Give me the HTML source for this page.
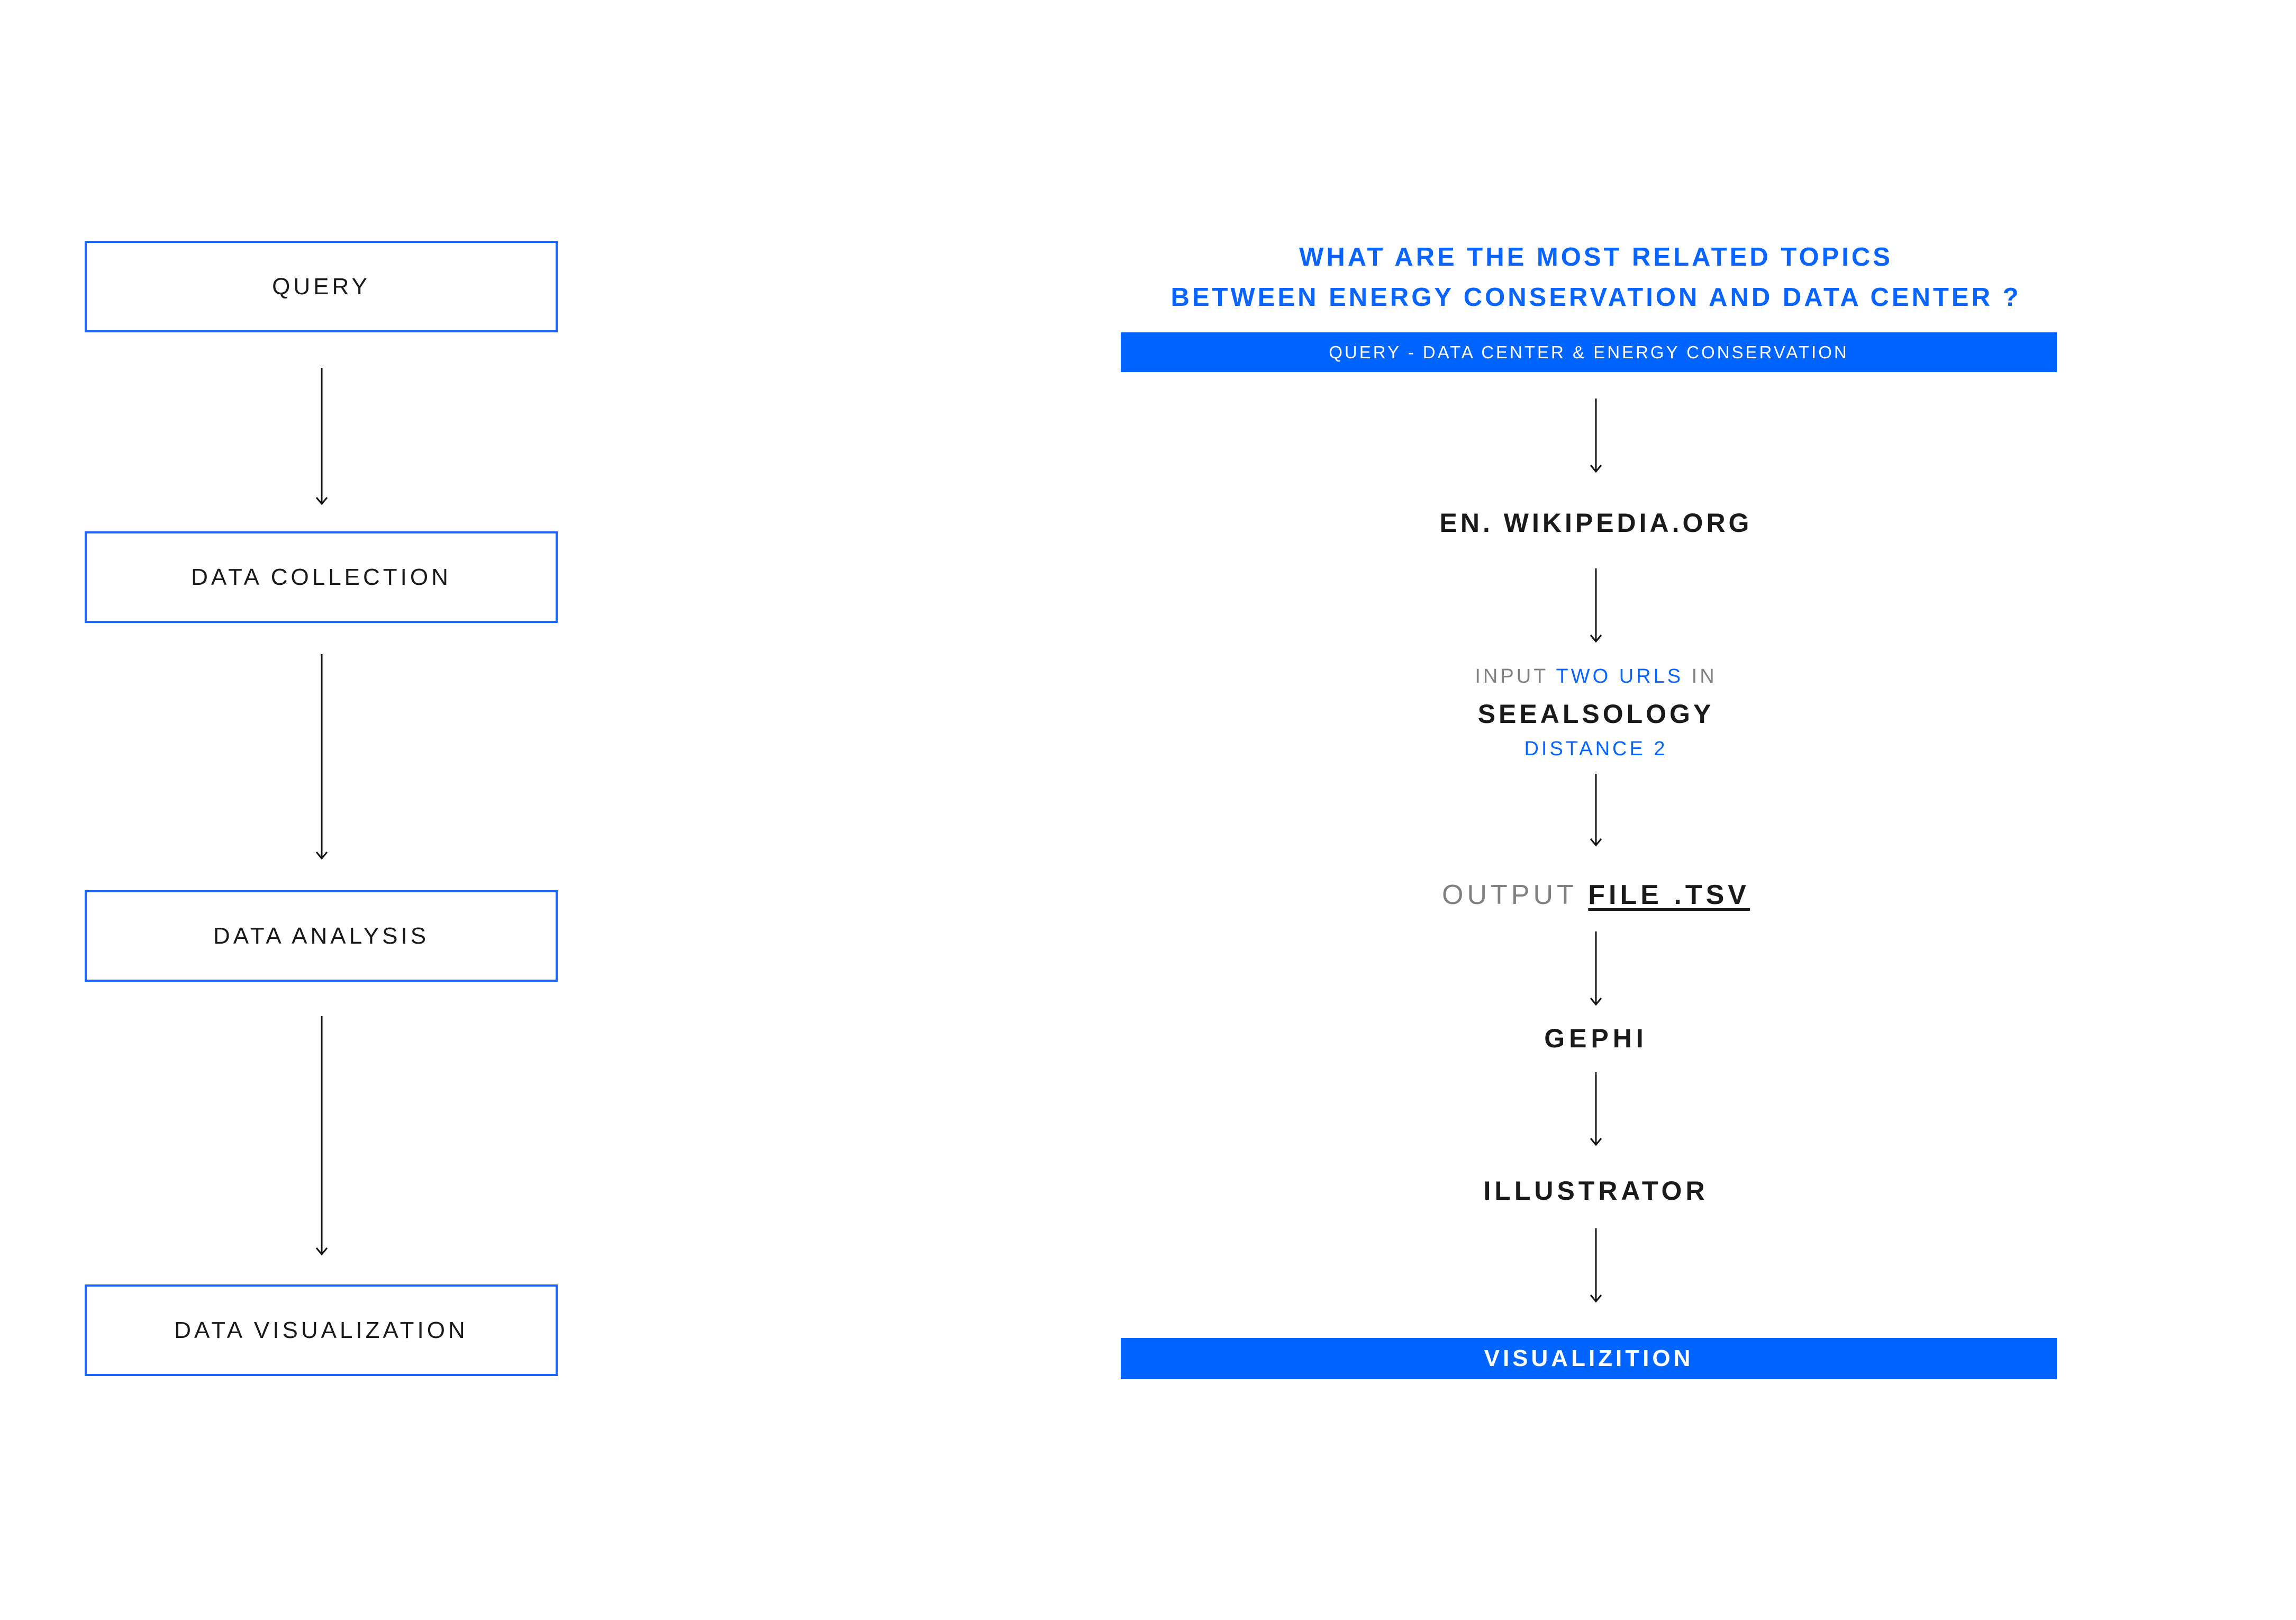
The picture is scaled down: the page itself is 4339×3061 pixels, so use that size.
<!DOCTYPE html>
<html><head><meta charset="utf-8"><style>
html,body{margin:0;padding:0;background:#fff}
body{width:4339px;height:3061px;position:relative;overflow:hidden;font-family:"Liberation Sans",sans-serif}
.box{position:absolute;left:160px;width:894px;height:173px;border:4px solid #1a66ff;box-sizing:border-box;display:flex;align-items:center;justify-content:center;font-size:44px;letter-spacing:6px;color:#1a1a1a}
.t{position:absolute;left:0;width:100%;text-align:center;white-space:nowrap;line-height:1}
.r{left:2100px;width:1832px}
.bar{position:absolute;left:2118px;width:1769px;background:#0064ff;color:#fff;display:flex;align-items:center;justify-content:center}
.blue{color:#0a64ff}.grey{color:#808080}
.b{font-weight:bold}
</style></head><body>
<div class="box" style="top:455px">QUERY</div>
<div class="box" style="top:1004px">DATA COLLECTION</div>
<div class="box" style="top:1682px">DATA ANALYSIS</div>
<div class="box" style="top:2427px">DATA VISUALIZATION</div>

<svg width="4339" height="3061" style="position:absolute;left:0;top:0" fill="none" stroke="#111" stroke-width="3">
<g>
<path d="M608 695V952M598 940l10 12 10-12"/>
<path d="M608 1236V1622M598 1610l10 12 10-12"/>
<path d="M608 1920V2370M598 2358l10 12 10-12"/>
<path d="M3016 753V891M3006 879l10 12 10-12"/>
<path d="M3016 1074V1212M3006 1200l10 12 10-12"/>
<path d="M3016 1462V1597M3006 1585l10 12 10-12"/>
<path d="M3016 1760V1898M3006 1886l10 12 10-12"/>
<path d="M3016 2026V2163M3006 2151l10 12 10-12"/>
<path d="M3016 2321V2459M3006 2447l10 12 10-12"/>
</g></svg>

<div class="t r blue b" style="top:462px;font-size:49px;letter-spacing:5px">WHAT ARE THE MOST RELATED TOPICS</div>
<div class="t r blue b" style="top:538px;font-size:49px;letter-spacing:5px">BETWEEN ENERGY CONSERVATION AND DATA CENTER ?</div>
<div class="bar" style="top:628px;height:75px;font-size:33px;letter-spacing:4px">QUERY - DATA CENTER &amp; ENERGY CONSERVATION</div>
<div class="t r b" style="top:963px;font-size:50px;letter-spacing:6px;color:#1a1a1a">EN. WIKIPEDIA.ORG</div>
<div class="t r grey" style="top:1259px;font-size:38px;letter-spacing:5px">INPUT <span class="blue">TWO URLS</span> IN</div>
<div class="t r b" style="top:1324px;font-size:50px;letter-spacing:6px;color:#1a1a1a">SEEALSOLOGY</div>
<div class="t r blue" style="top:1396px;font-size:38px;letter-spacing:5px">DISTANCE 2</div>
<div class="t r grey" style="top:1665px;font-size:52px;letter-spacing:7px">OUTPUT <span class="b" style="color:#1a1a1a;text-decoration:underline;text-underline-offset:8px">FILE .TSV</span></div>
<div class="t r b" style="top:1937px;font-size:50px;letter-spacing:8px;color:#1a1a1a">GEPHI</div>
<div class="t r b" style="top:2225px;font-size:50px;letter-spacing:7px;color:#1a1a1a">ILLUSTRATOR</div>
<div class="bar b" style="top:2528px;height:78px;font-size:44px;letter-spacing:6px">VISUALIZITION</div>
</body></html>
